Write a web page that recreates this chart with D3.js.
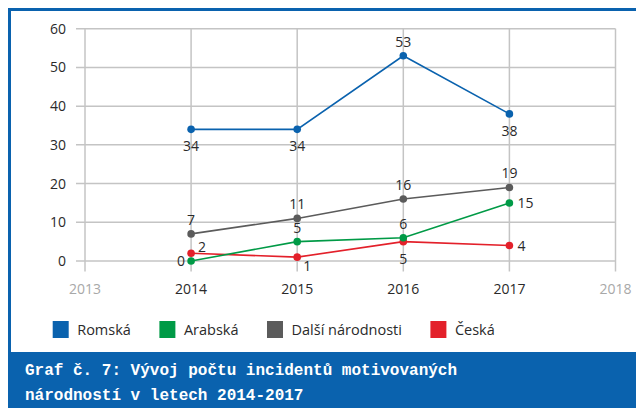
<!DOCTYPE html>
<html><head><meta charset="utf-8">
<script src="https://cdn.jsdelivr.net/npm/d3@7"></script>
<style>
html,body{margin:0;padding:0;background:#fff;}
svg{display:block;}
</style></head>
<body>
<svg id="c" width="636" height="408"></svg>
<script>
// ---- data ----
const years = [2014, 2015, 2016, 2017];
const axisYears = [2013, 2014, 2015, 2016, 2017, 2018];
const yTicks = [0, 10, 20, 30, 40, 50, 60];
const seriesNames = ["Romská", "Arabská", "Další národnosti", "Česká"];
const romska = [34, 34, 53, 38];
const arabska = [0, 5, 6, 15];
const dalsi = [7, 11, 16, 19];
const ceska = [2, 1, 5, 4];
const captionLines = ["Graf č. 7: Vývoj počtu incidentů motivovaných", "národností v letech 2014-2017"];

// label placement per point (style only)
const placements = {
  "Romská": ["below", "below", "above", "below"],
  "Arabská": ["left", "above", "above", "right"],
  "Další národnosti": ["above", "above", "above", "above"],
  "Česká": ["upright", "downright", "below", "right"]
};
const colors = {"Romská": "#0a62ae", "Arabská": "#009a46", "Další národnosti": "#5b5b5b", "Česká": "#e3202a"};
const seriesValues = [romska, arabska, dalsi, ceska];
// draw order (back to front)
const drawOrder = ["Romská", "Další národnosti", "Česká", "Arabská"];

const svg = d3.select("#c");
const blue = "#0a62ae";
const font = "'Open Sans', sans-serif";

const x = d3.scaleLinear().domain([2013, 2018]).range([85, 615.5]);
const y = d3.scaleLinear().domain([0, 60]).range([261, 28.7]);

// frame
svg.append("path").attr("d", "M9.5,408 V9.5 H640").attr("fill", "none").attr("stroke", blue).attr("stroke-width", 3);

// grid
const g = svg.append("g");
g.selectAll("line.h").data(yTicks).join("line")
  .attr("x1", 76).attr("x2", x(2018)).attr("y1", d => y(d)).attr("y2", d => y(d))
  .attr("stroke", "#c4c4c4").attr("stroke-width", 1.5);
g.selectAll("line.v").data(axisYears).join("line")
  .attr("x1", d => x(d)).attr("x2", d => x(d)).attr("y1", y(60)).attr("y2", y(0) + 10.5)
  .attr("stroke", "#c4c4c4").attr("stroke-width", 1.5);

// y labels
g.selectAll("text.yl").data(yTicks).join("text")
  .attr("x", 66).attr("y", d => y(d)).attr("dy", "0.36em")
  .attr("text-anchor", "end").attr("font-family", font).attr("font-size", 14).attr("fill", "#2a2a2a")
  .text(d => d);
// x labels
g.selectAll("text.xl").data(axisYears).join("text")
  .attr("x", d => x(d)).attr("y", 294)
  .attr("text-anchor", "middle").attr("font-family", font).attr("font-size", 14)
  .attr("fill", d => (d === 2013 || d === 2018) ? "#a8a8a8" : "#2a2a2a")
  .text(d => d);

// series
const line = d3.line().x((d, i) => x(years[i])).y(d => y(d));
drawOrder.forEach(name => {
  const vals = seriesValues[seriesNames.indexOf(name)];
  const c = colors[name];
  svg.append("path").datum(vals).attr("d", line).attr("fill", "none").attr("stroke", c).attr("stroke-width", 1.6);
  svg.selectAll(null).data(vals).join("circle")
    .attr("cx", (d, i) => x(years[i])).attr("cy", d => y(d)).attr("r", 3.8).attr("fill", c);
});
// value labels
seriesNames.forEach((name, si) => {
  const vals = seriesValues[si];
  vals.forEach((v, i) => {
    const px = x(years[i]), py = y(v);
    const p = placements[name][i];
    let tx = px, ty = py, anchor = "middle";
    if (p === "above") { ty = py - 14; }
    else if (p === "below") { ty = py + 17; }
    else if (p === "left") { tx = px - 6; anchor = "end"; }
    else if (p === "right") { tx = px + 8; anchor = "start"; }
    else if (p === "upright") { tx = px + 7; ty = py - 6; anchor = "start"; }
    else if (p === "downright") { tx = px + 6; ty = py + 9; anchor = "start"; }
    svg.append("text").attr("x", tx).attr("y", ty).attr("dy", "0.36em")
      .attr("text-anchor", anchor).attr("font-family", font).attr("font-size", 14).attr("fill", "#2a2a2a")
      .text(v);
  });
});

// legend
const lg = svg.append("g");
let lx = 52.7;
seriesNames.forEach(name => {
  lg.append("rect").attr("x", lx).attr("y", 321).attr("width", 16).attr("height", 17).attr("fill", colors[name]);
  const t = lg.append("text").attr("x", lx + 24.5).attr("y", 330).attr("dy", "0.36em")
    .attr("font-family", font).attr("font-size", 14.5).attr("fill", "#2a2a2a").text(name);
  lx = lx + 24.5 + t.node().getComputedTextLength() + 28.5;
});

// caption band
svg.append("rect").attr("x", 8).attr("y", 352).attr("width", 628).attr("height", 56).attr("fill", blue);
svg.selectAll("text.cap").data(captionLines).join("text")
  .attr("x", 25).attr("y", (d, i) => 375 + i * 25)
  .attr("font-family", "'Liberation Mono', monospace").attr("font-weight", "bold").attr("font-size", 16)
  .attr("fill", "#fff").text(d => d);
</script>
</body></html>
